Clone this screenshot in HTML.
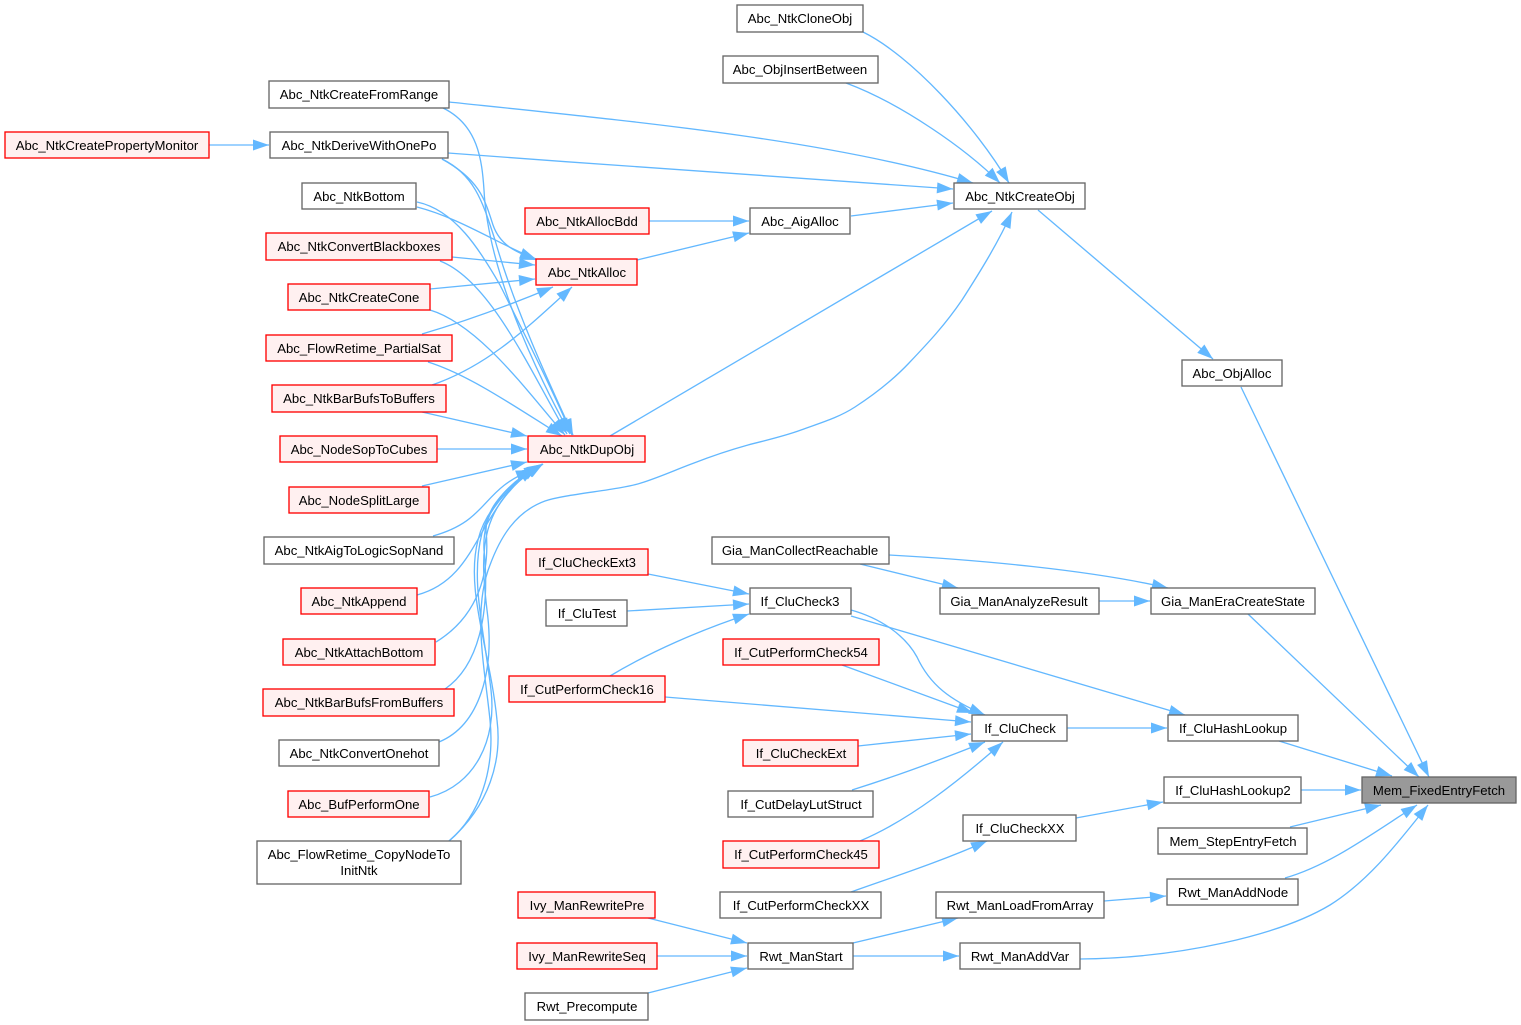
<!DOCTYPE html>
<html><head><meta charset="utf-8"><style>
html,body{margin:0;padding:0;background:#fff}
svg{display:block}
text{font-family:"Liberation Sans",Arial,sans-serif;font-size:13.15px;text-anchor:middle;fill:#000}
.g{fill:#fff;stroke:#666;stroke-width:1.33}
.r{fill:#fff0f0;stroke:#f00;stroke-width:1.33}
.m{fill:#999;stroke:#666;stroke-width:1.33}
.e path{fill:none;stroke:#63b8ff;stroke-width:1.33;marker-end:url(#a)}
</style></head><body>
<svg width="1521" height="1025" viewBox="0 0 1521 1025" xmlns="http://www.w3.org/2000/svg">
<defs><marker id="a" markerUnits="userSpaceOnUse" markerWidth="18" markerHeight="14" refX="17" refY="7" orient="auto"><path d="M1,1.5 L17,7 L1,12.5 Z" fill="#63b8ff"/></marker></defs>
<g class="e">
<path d="M863,32 C910,55 975,125 1009,183"/>
<path d="M846,83 C900,103 965,148 1000,183"/>
<path d="M449,102 C640,122 830,140 973,183"/>
<path d="M448,153 C620,166 800,178 953,189"/>
<path d="M851,216 L953,203"/>
<path d="M649,221 L749,221"/>
<path d="M637,260 L749,233"/>
<path d="M610,436 L992,211"/>
<path d="M449,841 C480,815 495,770 490,720 C485,670 472,610 490,565 C500,538 515,512 545,501 C565,494 620,490 641,483 C660,477 675,470 694,463 C712,456 730,450 748,445 C767,440 785,436 801,430 C820,423 838,418 855,407 C875,394 892,381 909,363 C928,343 945,325 962,300 C980,272 998,243 1012,212"/>
<path d="M1038,210 L1213,359"/>
<path d="M1241,387 L1429,777"/>
<path d="M209,145 L269,145"/>
<path d="M1248,614 L1419,777"/>
<path d="M1279,741 L1392,776"/>
<path d="M1301,790 L1361,790"/>
<path d="M1290,827 L1381,805"/>
<path d="M1285,878 C1330,865 1370,835 1417,805"/>
<path d="M1080,959 C1180,958 1280,935 1330,905 C1370,880 1400,840 1428,805"/>
<path d="M889,555 C980,560 1090,570 1168,588"/>
<path d="M860,564 L958,588"/>
<path d="M1099,601 L1150,601"/>
<path d="M851,610 C880,618 905,635 917,657 C930,685 950,700 985,715"/>
<path d="M851,616 L1185,715"/>
<path d="M1067,728 L1167,728"/>
<path d="M842,665 L973,713"/>
<path d="M665,697 L971,722"/>
<path d="M858,746 L971,734"/>
<path d="M852,790 C900,775 945,758 985,742"/>
<path d="M860,841 C910,820 960,780 1003,742"/>
<path d="M648,574 L749,594"/>
<path d="M627,611 L749,604"/>
<path d="M610,676 C650,652 700,630 749,614"/>
<path d="M1076,818 L1163,802"/>
<path d="M851,892 C890,878 940,862 987,841"/>
<path d="M1104,901 L1166,896"/>
<path d="M853,943 L958,918"/>
<path d="M853,956 L959,956"/>
<path d="M648,918 L747,943"/>
<path d="M657,956 L747,956"/>
<path d="M648,993 L747,968"/>
<path d="M442,159 C480,180 485,200 493,225 C500,245 515,252 537,260"/>
<path d="M442,159 C475,175 483,203 495,240 C515,310 550,385 573,435"/>
<path d="M443,108 C478,125 482,160 484,190 C488,270 535,370 570,434"/>
<path d="M417,207 C460,218 500,245 536,259"/>
<path d="M417,202 C455,210 480,250 500,285 C525,335 550,385 572,435"/>
<path d="M452,257 L535,265"/>
<path d="M440,261 C490,280 530,370 567,434"/>
<path d="M430,289 L535,279"/>
<path d="M430,310 C480,325 530,395 565,435"/>
<path d="M422,334 C470,320 510,305 553,287"/>
<path d="M428,362 C470,375 520,410 562,436"/>
<path d="M432,385 C490,365 530,325 572,287"/>
<path d="M422,412 L527,436"/>
<path d="M437,449 L527,449"/>
<path d="M422,486 L527,462"/>
<path d="M433,536 C490,520 480,490 532,470"/>
<path d="M417,595 C480,578 475,510 535,468"/>
<path d="M436,642 C480,615 490,570 486,530 C486,505 510,485 538,466"/>
<path d="M445,689 C480,665 490,610 484,550 C482,510 505,485 540,465"/>
<path d="M439,742 C480,725 495,670 487,610 C480,550 478,505 542,464"/>
<path d="M430,797 C475,785 497,740 491,690 C484,630 470,580 482,533 C490,505 515,480 543,464"/>
<path d="M449,841 C490,805 502,760 497,720 C490,650 465,590 478,540 C485,510 510,485 543,464"/>
</g>
<g>
<rect class="g" x="737" y="5" width="126" height="27"/><text x="800" y="23">Abc_NtkCloneObj</text>
<rect class="g" x="723" y="56" width="155" height="27"/><text x="800" y="74">Abc_ObjInsertBetween</text>
<rect class="g" x="269" y="81" width="180" height="27"/><text x="359" y="99">Abc_NtkCreateFromRange</text>
<rect class="g" x="270" y="132" width="178" height="26"/><text x="359" y="150">Abc_NtkDeriveWithOnePo</text>
<rect class="r" x="5" y="132" width="204" height="26"/><text x="107" y="150">Abc_NtkCreatePropertyMonitor</text>
<rect class="g" x="302" y="183" width="114" height="26"/><text x="359" y="201">Abc_NtkBottom</text>
<rect class="r" x="266" y="233" width="186" height="27"/><text x="359" y="251">Abc_NtkConvertBlackboxes</text>
<rect class="r" x="288" y="284" width="142" height="26"/><text x="359" y="302">Abc_NtkCreateCone</text>
<rect class="r" x="266" y="335" width="186" height="26"/><text x="359" y="353">Abc_FlowRetime_PartialSat</text>
<rect class="r" x="272" y="385" width="174" height="27"/><text x="359" y="403">Abc_NtkBarBufsToBuffers</text>
<rect class="r" x="280" y="436" width="157" height="26"/><text x="359" y="454">Abc_NodeSopToCubes</text>
<rect class="r" x="289" y="487" width="140" height="26"/><text x="359" y="505">Abc_NodeSplitLarge</text>
<rect class="g" x="264" y="537" width="190" height="27"/><text x="359" y="555">Abc_NtkAigToLogicSopNand</text>
<rect class="r" x="301" y="588" width="116" height="26"/><text x="359" y="606">Abc_NtkAppend</text>
<rect class="r" x="283" y="639" width="152" height="26"/><text x="359" y="657">Abc_NtkAttachBottom</text>
<rect class="r" x="263" y="689" width="191" height="27"/><text x="359" y="707">Abc_NtkBarBufsFromBuffers</text>
<rect class="g" x="279" y="740" width="160" height="26"/><text x="359" y="758">Abc_NtkConvertOnehot</text>
<rect class="r" x="288" y="791" width="141" height="26"/><text x="359" y="809">Abc_BufPerformOne</text>
<rect class="g" x="257" y="841" width="204" height="43"/><text x="359" y="859">Abc_FlowRetime_CopyNodeTo</text><text x="359" y="875">InitNtk</text>
<rect class="r" x="525" y="208" width="124" height="26"/><text x="587" y="226">Abc_NtkAllocBdd</text>
<rect class="r" x="536" y="259" width="101" height="26"/><text x="587" y="277">Abc_NtkAlloc</text>
<rect class="r" x="528" y="436" width="117" height="26"/><text x="587" y="454">Abc_NtkDupObj</text>
<rect class="g" x="750" y="208" width="100" height="26"/><text x="800" y="226">Abc_AigAlloc</text>
<rect class="g" x="954" y="183" width="131" height="26"/><text x="1020" y="201">Abc_NtkCreateObj</text>
<rect class="g" x="1182" y="360" width="100" height="26"/><text x="1232" y="378">Abc_ObjAlloc</text>
<rect class="g" x="712" y="537" width="177" height="27"/><text x="800" y="555">Gia_ManCollectReachable</text>
<rect class="g" x="940" y="588" width="159" height="26"/><text x="1019" y="606">Gia_ManAnalyzeResult</text>
<rect class="g" x="1151" y="588" width="164" height="26"/><text x="1233" y="606">Gia_ManEraCreateState</text>
<rect class="r" x="526" y="549" width="122" height="26"/><text x="587" y="567">If_CluCheckExt3</text>
<rect class="g" x="546" y="600" width="81" height="26"/><text x="587" y="618">If_CluTest</text>
<rect class="g" x="750" y="588" width="101" height="26"/><text x="800" y="606">If_CluCheck3</text>
<rect class="r" x="509" y="676" width="156" height="26"/><text x="587" y="694">If_CutPerformCheck16</text>
<rect class="r" x="723" y="639" width="156" height="26"/><text x="801" y="657">If_CutPerformCheck54</text>
<rect class="g" x="972" y="715" width="95" height="26"/><text x="1020" y="733">If_CluCheck</text>
<rect class="g" x="1168" y="715" width="130" height="26"/><text x="1233" y="733">If_CluHashLookup</text>
<rect class="r" x="743" y="740" width="115" height="26"/><text x="801" y="758">If_CluCheckExt</text>
<rect class="g" x="728" y="791" width="145" height="26"/><text x="801" y="809">If_CutDelayLutStruct</text>
<rect class="r" x="723" y="841" width="156" height="27"/><text x="801" y="859">If_CutPerformCheck45</text>
<rect class="g" x="963" y="815" width="113" height="26"/><text x="1020" y="833">If_CluCheckXX</text>
<rect class="g" x="1164" y="777" width="137" height="26"/><text x="1233" y="795">If_CluHashLookup2</text>
<rect class="m" x="1362" y="777" width="154" height="26"/><text x="1439" y="795">Mem_FixedEntryFetch</text>
<rect class="g" x="1158" y="828" width="149" height="26"/><text x="1233" y="846">Mem_StepEntryFetch</text>
<rect class="g" x="720" y="892" width="161" height="26"/><text x="801" y="910">If_CutPerformCheckXX</text>
<rect class="g" x="936" y="892" width="168" height="26"/><text x="1020" y="910">Rwt_ManLoadFromArray</text>
<rect class="g" x="1167" y="879" width="131" height="26"/><text x="1233" y="897">Rwt_ManAddNode</text>
<rect class="r" x="518" y="892" width="137" height="26"/><text x="587" y="910">Ivy_ManRewritePre</text>
<rect class="r" x="517" y="943" width="140" height="26"/><text x="587" y="961">Ivy_ManRewriteSeq</text>
<rect class="g" x="748" y="943" width="105" height="26"/><text x="801" y="961">Rwt_ManStart</text>
<rect class="g" x="960" y="943" width="120" height="26"/><text x="1020" y="961">Rwt_ManAddVar</text>
<rect class="g" x="525" y="993" width="123" height="27"/><text x="587" y="1011">Rwt_Precompute</text>
</g>
</svg>
</body></html>
